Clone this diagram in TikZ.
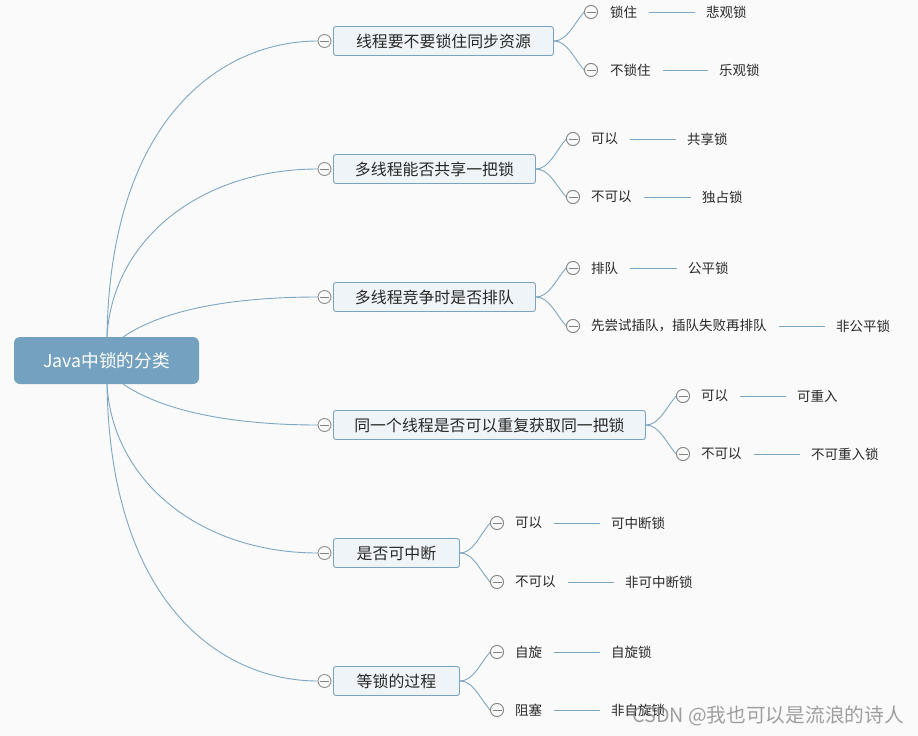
\documentclass[tikz,border=0pt]{standalone}
\usepackage{fontspec}
\setmainfont{Noto Sans CJK SC}
\usetikzlibrary{calc}
\definecolor{bgc}{RGB}{250,250,250}
\definecolor{rootc}{RGB}{116,161,191}
\definecolor{linec}{RGB}{125,166,196}
\definecolor{boxfill}{RGB}{239,244,248}
\definecolor{boxdraw}{RGB}{122,163,194}
\definecolor{txtc}{RGB}{40,40,40}
\definecolor{circc}{RGB}{130,130,130}
\tikzset{
  rootbox/.style={rectangle, rounded corners=6pt, fill=rootc, text=white, minimum width=185pt, minimum height=47pt, inner sep=0pt, font=\fontsize{17.7}{21}\selectfont},
  branchbox/.style={rectangle, rounded corners=2.5pt, fill=boxfill, draw=boxdraw, line width=0.9pt, minimum height=29pt, inner sep=0pt, anchor=west, text=txtc, font=\fontsize{15.9}{19}\selectfont},
  fold/.style={circle, minimum size=13pt, inner sep=0pt, draw=circc, line width=0.8pt, fill=bgc,
    path picture={\draw[circc, line width=0.9pt] ([xshift=-4.5pt]path picture bounding box.center) -- ([xshift=4.5pt]path picture bounding box.center);}},
  leaftxt/.style={anchor=west, inner sep=0pt, text=txtc, font=\fontsize{13.5}{16}\selectfont},
  conn/.style={draw=linec, line width=0.9pt},
  dashline/.style={draw=linec, line width=0.9pt, shorten >=11pt, shorten <=12pt},
}
\begin{document}
\begin{tikzpicture}[x=1pt, y=-1pt]
\useasboundingbox[fill=bgc] (0,0) rectangle (918,736);

% root
\node[rootbox] (root) at (106.5,360.5) {Java中锁的分类};
\coordinate (rtA) at (107,337);
\coordinate (rtB) at (123,337);
\coordinate (rbA) at (107,384);
\coordinate (rbB) at (123,384);

% branch boxes
\node[branchbox, minimum width=220pt] (b1) at (333,41) {线程要不要锁住同步资源};
\node[branchbox, minimum width=202pt] (b2) at (333,169) {多线程能否共享一把锁};
\node[branchbox, minimum width=202pt] (b3) at (333,297) {多线程竞争时是否排队};
\node[branchbox, minimum width=312pt] (b4) at (333,425) {同一个线程是否可以重复获取同一把锁};
\node[branchbox, minimum width=126pt] (b5) at (333,553) {是否可中断};
\node[branchbox, minimum width=126pt] (b6) at (333,681) {等锁的过程};

% root connectors
\path[conn] (rtA) .. controls (110,120) and (220,41) .. (318,41);
\path[conn] (rtA) .. controls (112,240) and (200,169) .. (318,169);
\path[conn] (rtB) .. controls (170,305) and (250,297) .. (318,297);
\path[conn] (rbB) .. controls (170,416) and (250,425) .. (318,425);
\path[conn] (rbA) .. controls (112,481) and (200,553) .. (318,553);
\path[conn] (rbA) .. controls (110,602) and (220,681) .. (318,681);

\node[fold] (c1) at (324.5,41) {};
\node[fold] (c2) at (324.5,169) {};
\node[fold] (c3) at (324.5,297) {};
\node[fold] (c4) at (324.5,425) {};
\node[fold] (c5) at (324.5,553) {};
\node[fold] (c6) at (324.5,681) {};

% leaf circles
\coordinate (p11) at (591,12);  \coordinate (p12) at (591,70);
\coordinate (p21) at (573,139); \coordinate (p22) at (573,197);
\coordinate (p31) at (573,268); \coordinate (p32) at (573,326);
\coordinate (p41) at (683,396); \coordinate (p42) at (683,454);
\coordinate (p51) at (497,523); \coordinate (p52) at (497,582);
\coordinate (p61) at (497,652); \coordinate (p62) at (497,710);

\foreach \i in {1,...,6}{
  \node[fold] (l\i1) at (p\i1) {};
  \node[fold] (l\i2) at (p\i2) {};
  \path[conn] (b\i.east) .. controls +(13,0) and +(-11,13) .. (l\i1.west);
  \path[conn] (b\i.east) .. controls +(13,0) and +(-11,-13) .. (l\i2.west);
}
% redraw circles above connectors
\foreach \i in {1,...,6}{
  \node[fold] at (p\i1) {};
  \node[fold] at (p\i2) {};
}

% leaf texts
\node[leaftxt] (t11) at (610,12) {锁住};
\node[leaftxt] (r11) at (706,12) {悲观锁};
\node[leaftxt] (t12) at (610,70) {不锁住};
\node[leaftxt] (r12) at (719,70) {乐观锁};
\node[leaftxt] (t21) at (591,139) {可以};
\node[leaftxt] (r21) at (687,139) {共享锁};
\node[leaftxt] (t22) at (591,197) {不可以};
\node[leaftxt] (r22) at (702,197) {独占锁};
\node[leaftxt] (t31) at (591,268) {排队};
\node[leaftxt] (r31) at (688,268) {公平锁};
\node[leaftxt] (t32) at (591,326) {先尝试插队，插队失败再排队};
\node[leaftxt] (r32) at (836,326) {非公平锁};
\node[leaftxt] (t41) at (701,396) {可以};
\node[leaftxt] (r41) at (797,396) {可重入};
\node[leaftxt] (t42) at (701,454) {不可以};
\node[leaftxt] (r42) at (811,454) {不可重入锁};
\node[leaftxt] (t51) at (515,523) {可以};
\node[leaftxt] (r51) at (611,523) {可中断锁};
\node[leaftxt] (t52) at (515,582) {不可以};
\node[leaftxt] (r52) at (625,582) {非可中断锁};
\node[leaftxt] (t61) at (515,652) {自旋};
\node[leaftxt] (r61) at (611,652) {自旋锁};
\node[leaftxt] (t62) at (515,710) {阻塞};
\node[leaftxt] (r62) at (611,710) {非自旋锁};

\foreach \a in {11,12,21,22,31,32,41,42,51,52,61,62}{
  \path[dashline] (t\a.east) -- (r\a.west);
}

% watermark (overlaps the last leaf, as in the reference)
\node[anchor=west, inner sep=0pt, text=gray, opacity=0.75, font=\fontsize{19.7}{23}\selectfont] (wm) at (632,716) {CSDN @我也可以是流浪的诗人};
\end{tikzpicture}
\end{document}
